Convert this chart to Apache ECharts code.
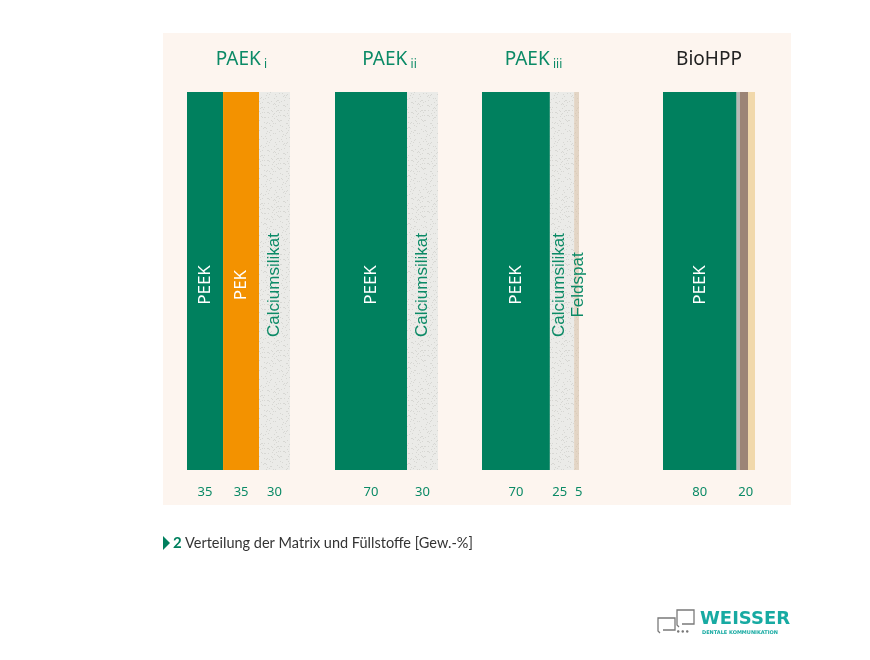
<!DOCTYPE html>
<html>
<head>
<meta charset="utf-8">
<script src="https://cdn.jsdelivr.net/npm/echarts@6/dist/echarts.min.js"></script>
<style>
html, body { margin: 0; padding: 0; background: #fff; }
#chart { width: 870px; height: 660px; }
</style>
</head>
<body>
<div id="chart"></div>
<script>
// Daten: Anteile in Gew.-% je Werkstoff
var groupNames = ['PAEK', 'PAEK', 'PAEK', 'BioHPP'];
var groupSubs = ['i', 'ii', 'iii', ''];
var paek1Parts = ['PEEK', 'PEK', 'Calciumsilikat'];
var paek1Values = [35, 35, 30];
var paek2Parts = ['PEEK', 'Calciumsilikat'];
var paek2Values = [70, 30];
var paek3Parts = ['PEEK', 'Calciumsilikat', 'Feldspat'];
var paek3Values = [70, 25, 5];
var bioParts = ['PEEK', ''];
var bioValues = [80, 20];

var allParts = [paek1Parts, paek2Parts, paek3Parts, bioParts];
var allValues = [paek1Values, paek2Values, paek3Values, bioValues];

// Spalten-Layout
var gridLeft = [187, 335, 482, 663];
var gridWidth = [103, 103, 97, 92];
var gridTop = 92, gridHeight = 378;

var green = '#00805e';
var textGreen = '#0b8a66';

// leichte Körnung für die Füllstoffe (feste Punktmuster, keine Daten)
function grain(base, dot, n) {
	var c = document.createElement('canvas');
	c.width = 48; c.height = 48;
	var ctx = c.getContext('2d');
	ctx.fillStyle = base;
	ctx.fillRect(0, 0, 48, 48);
	ctx.fillStyle = dot;
	var s = 7;
	for (var k = 0; k < n; k++) {
		s = (s * 73 + 41) % 2304;
		ctx.fillRect(s % 48, Math.floor(s / 48), 1, 1);
	}
	return { image: c, repeat: 'repeat' };
}

var silikatFill = grain('#ebebe8', 'rgba(185,185,180,0.4)', 220);
var feldFill = grain('#e3d5c5', 'rgba(205,190,172,0.45)', 180);
var bioFill = new echarts.graphic.LinearGradient(0, 0, 1, 0, [
	{ offset: 0, color: '#b9b9b6' },
	{ offset: 0.21, color: '#b9b9b6' },
	{ offset: 0.21, color: '#9c8476' },
	{ offset: 0.6, color: '#9c8476' },
	{ offset: 0.6, color: '#f1d8ab' },
	{ offset: 1, color: '#f1d8ab' }
]);

var partStyle = {
	'PEEK': { fill: green, text: '#ffffff', font: 'normal 17px "Noto Sans"' },
	'PEK': { fill: '#f39200', text: '#ffffff', font: 'normal 17px "Noto Sans"' },
	'Calciumsilikat': { fill: silikatFill, text: textGreen, font: 'normal 17px "Liberation Sans"' },
	'Feldspat': { fill: feldFill, text: textGreen, font: 'normal 17px "Liberation Sans"' },
	'': { fill: bioFill, text: textGreen, font: 'normal 17px "Liberation Sans"' }
};

// Beschriftungspositionen (px): Mitte des Segments, zu enge Nachbarn auseinanderschieben
function labelOffsets(values) {
	var acc = 0, pos = [];
	for (var i = 0; i < values.length; i++) {
		pos.push(acc + values[i] / 2);
		acc += values[i];
	}
	for (var j = pos.length - 1; j > 0; j--) {
		var d = 19 - (pos[j] - pos[j - 1]);
		if (d > 0) { pos[j - 1] -= d / 2; pos[j] += d / 2; }
	}
	return pos;
}

function renderSegment(params, api) {
	var g = params.seriesIndex;
	var name = allParts[g][params.dataIndex];
	var st = partStyle[name];
	var p0 = api.coord([api.value(0), 1]);
	var p1 = api.coord([api.value(1), 0]);
	var lx = api.coord([api.value(3), 0])[0];
	var children = [{
		type: 'rect',
		shape: { x: p0[0], y: p0[1], width: p1[0] - p0[0], height: p1[1] - p0[1] },
		style: { fill: st.fill }
	}, {
		type: 'text',
		x: lx, y: p1[1] + 22,
		style: { text: String(api.value(2)), align: 'center', verticalAlign: 'middle',
			font: 'normal 13px "Noto Sans"', fill: textGreen }
	}];
	if (name) {
		children.push({
			type: 'text',
			x: lx, y: (p0[1] + p1[1]) / 2 + 4,
			rotation: Math.PI / 2,
			style: { text: name, align: 'center', verticalAlign: 'middle', font: st.font, fill: st.text }
		});
	}
	return { type: 'group', children: children };
}

var grids = [], xAxes = [], yAxes = [], series = [];
for (var g = 0; g < 4; g++) {
	grids.push({ left: gridLeft[g], top: gridTop, width: gridWidth[g], height: gridHeight });
	xAxes.push({ type: 'value', gridIndex: g, min: 0, max: 100, show: false });
	yAxes.push({ type: 'value', gridIndex: g, min: 0, max: 1, show: false });
	var acc = 0, data = [];
	var lab = labelOffsets(allValues[g].map(function (v) { return v * gridWidth[g] / 100; }));
	for (var i = 0; i < allValues[g].length; i++) {
		data.push([acc, acc + allValues[g][i], allValues[g][i], lab[i] * 100 / gridWidth[g]]);
		acc += allValues[g][i];
	}
	series.push({
		type: 'custom', xAxisIndex: g, yAxisIndex: g,
		renderItem: renderSegment, data: data, silent: true, z: 5
	});
}

// Hintergrund und Titel über den Spalten
var graphics = [{
	type: 'rect', shape: { x: 163, y: 33, width: 628, height: 472 },
	style: { fill: '#fdf5ef' }, z: -10, silent: true
}];
for (var g2 = 0; g2 < 4; g2++) {
	graphics.push({
		type: 'text',
		x: gridLeft[g2] + gridWidth[g2] / 2 + (groupSubs[g2] ? 3 : 0), y: 60,
		style: {
			text: groupSubs[g2] ? '{a|' + groupNames[g2] + '} {s|' + groupSubs[g2] + '}' : '{b|' + groupNames[g2] + '}',
			align: 'center', verticalAlign: 'middle',
			rich: {
				a: { fontSize: 19, fontFamily: 'Noto Sans', fill: textGreen },
				b: { fontSize: 19, fontFamily: 'Noto Sans', fill: '#222222' },
				s: { fontSize: 12, fontFamily: 'Noto Sans', fill: textGreen, padding: [10, 0, 0, 0] }
			}
		}
	});
}

// Bildunterschrift
graphics.push({
	type: 'polygon', shape: { points: [[163, 536], [170, 543], [163, 550]] },
	style: { fill: green }
}, {
	type: 'text', x: 173, y: 543,
	style: {
		text: '{n|2} {t|Verteilung der Matrix und Füllstoffe [Gew.-%]}',
		verticalAlign: 'middle',
		rich: {
			n: { fontSize: 15, fontWeight: 'bold', fontFamily: 'Lato', fill: green },
			t: { fontSize: 14.5, fontFamily: 'Lato', fill: '#333333' }
		}
	}
});

// Logo
graphics.push({
	type: 'polyline', shape: { points: [[660, 633], [658, 631], [658, 618], [675, 618], [675, 630], [663, 630]] },
	style: { fill: 'none', stroke: '#7a7a7a', lineWidth: 1.3 }
}, {
	type: 'polyline', shape: { points: [[679, 627], [677, 625], [677, 610], [694, 610], [694, 624], [682, 624]] },
	style: { fill: 'none', stroke: '#7a7a7a', lineWidth: 1.3 }
}, {
	type: 'text', x: 676, y: 632,
	style: { text: '•••', font: 'bold 7px "DejaVu Sans"', fill: '#777777', verticalAlign: 'middle' }
}, {
	type: 'text', x: 700, y: 619,
	style: { text: 'WEISSER', font: 'bold 18px "DejaVu Sans"', fill: '#17aaa2', verticalAlign: 'middle' }
}, {
	type: 'text', x: 702, y: 633,
	style: { text: 'DENTALE KOMMUNIKATION', font: 'bold 5px "DejaVu Sans"', fill: '#17aaa2', verticalAlign: 'middle' }
});

var myChart = echarts.init(document.getElementById('chart'));
myChart.setOption({
	animation: false,
	backgroundColor: '#ffffff',
	grid: grids,
	xAxis: xAxes,
	yAxis: yAxes,
	series: series,
	graphic: graphics
});
</script>
</body>
</html>
